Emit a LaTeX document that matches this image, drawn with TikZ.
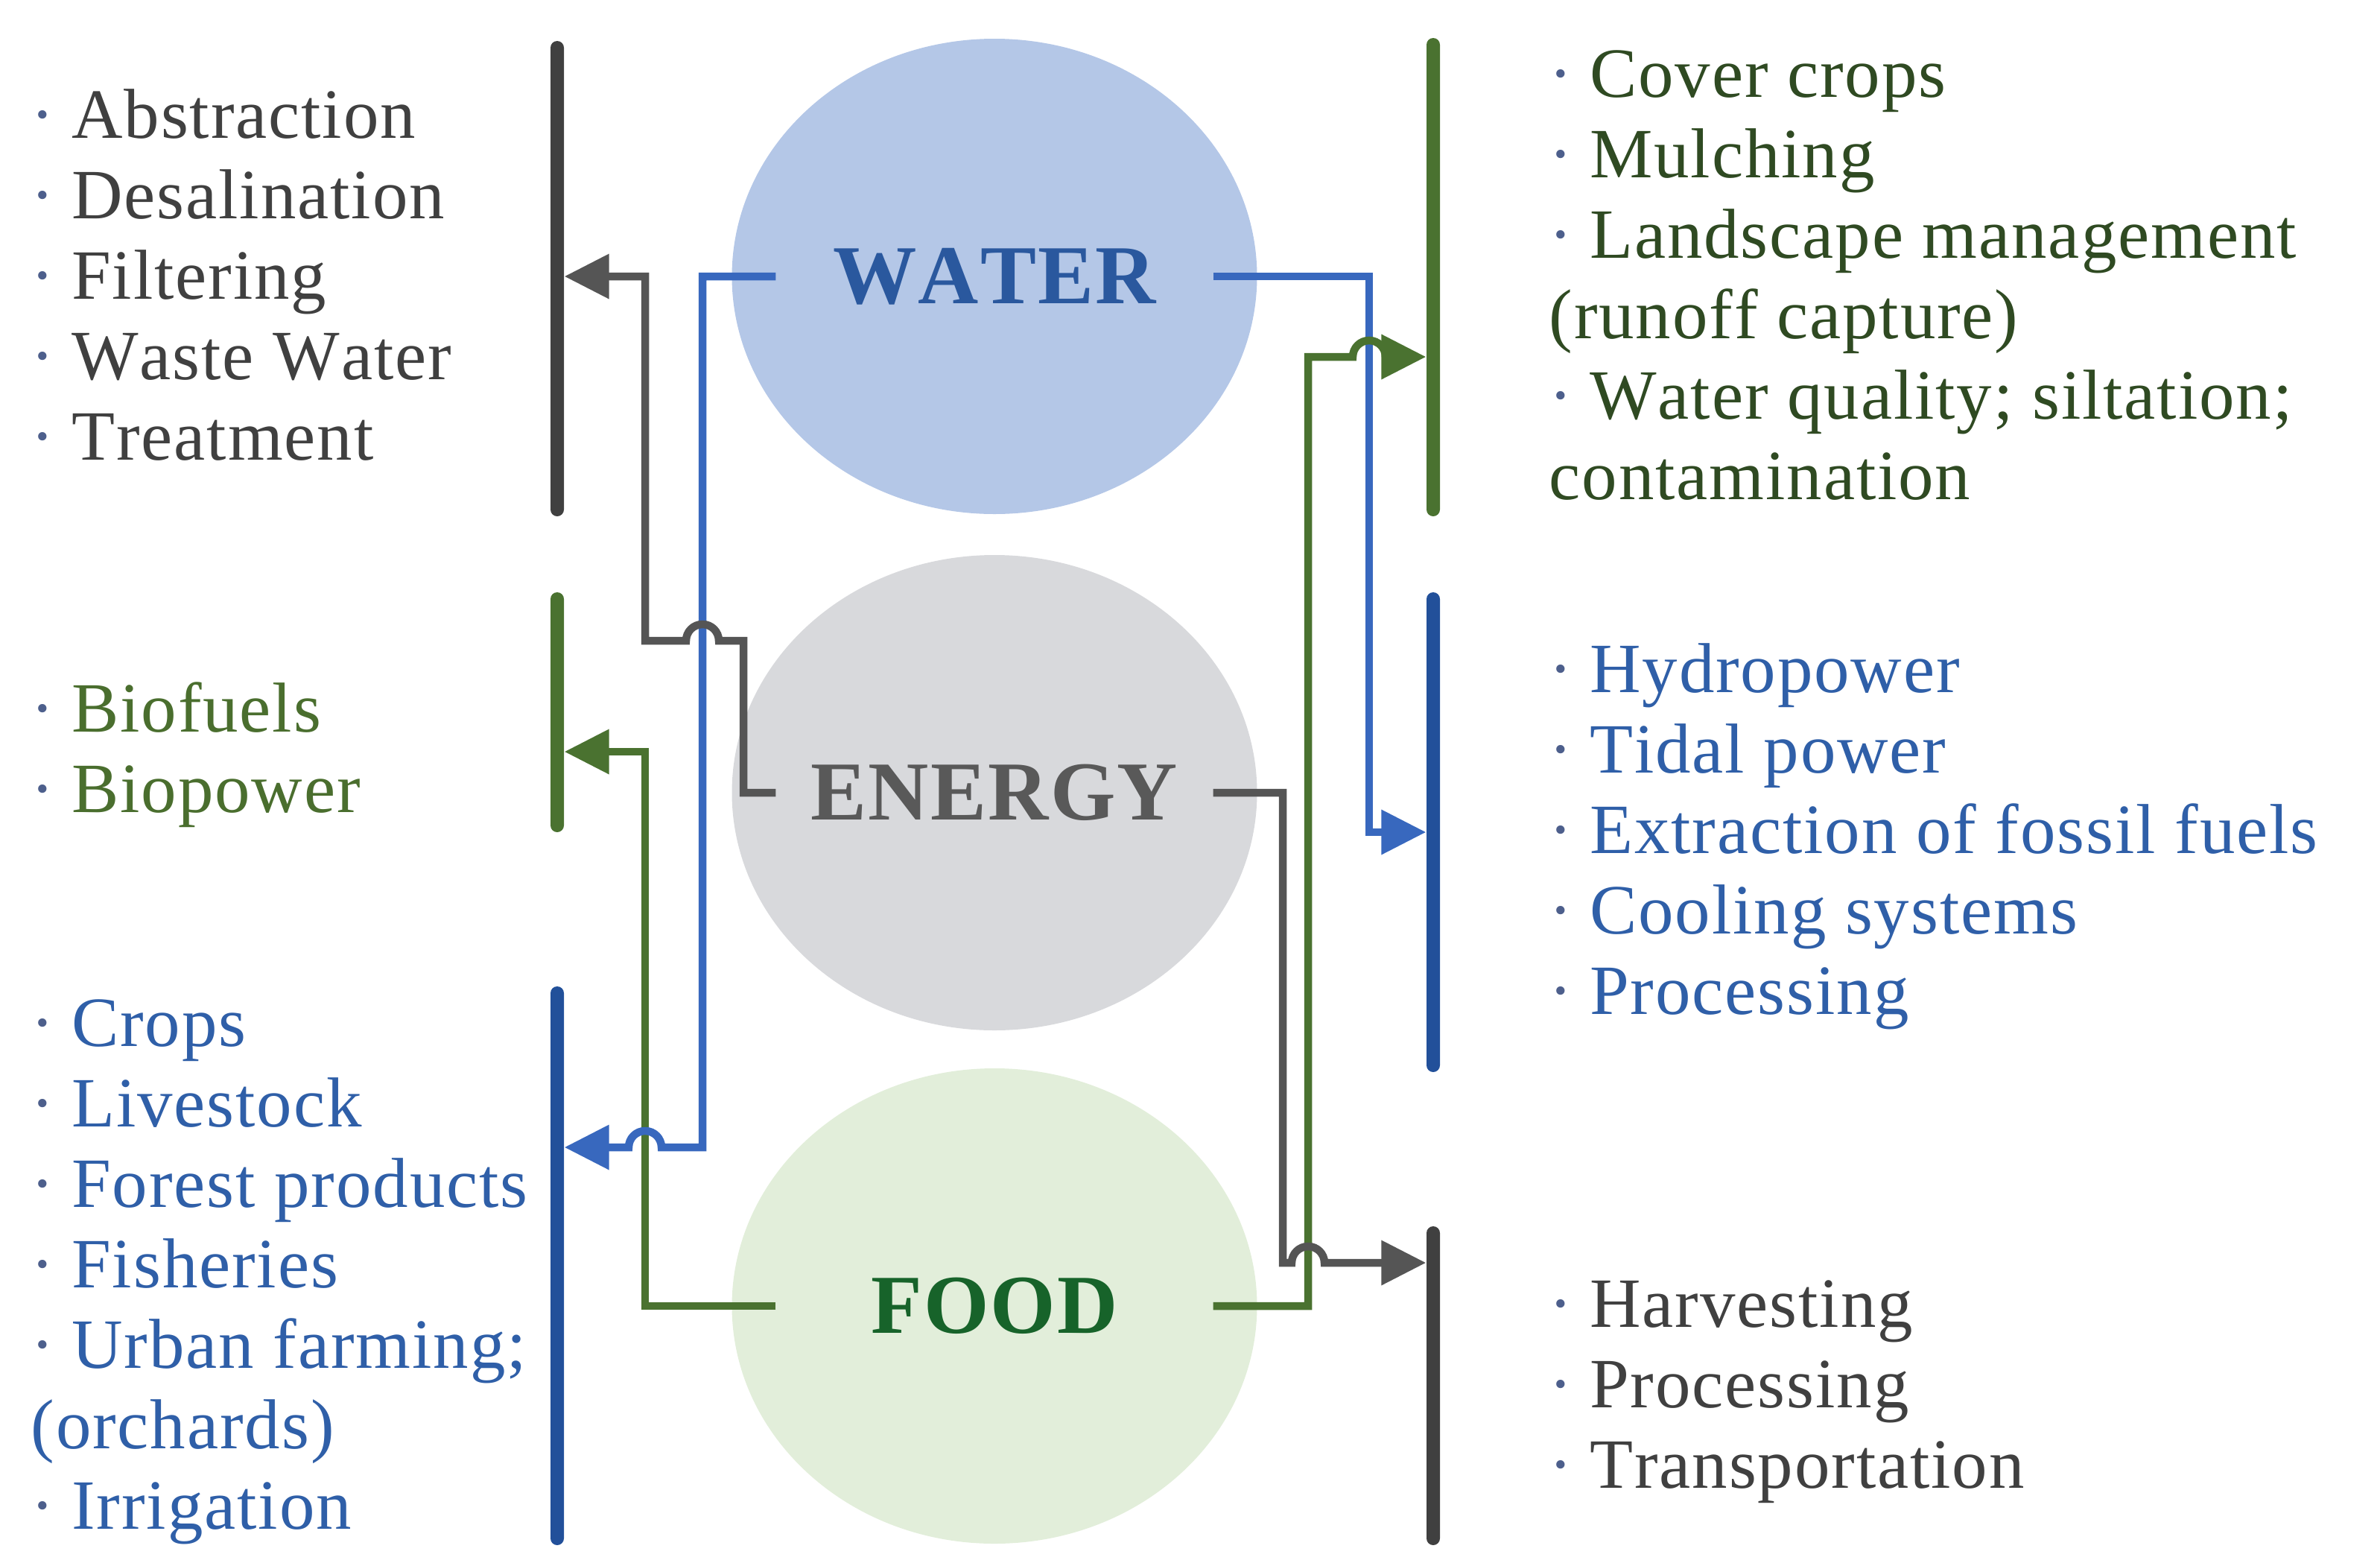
\documentclass[tikz,border=0pt]{standalone}
\usepackage{fontspec}
\setmainfont{Liberation Serif}
\newfontfamily\listfont{Liberation Serif}[LetterSpace=2,Kerning=Off]
\usetikzlibrary{shapes.geometric,arrows.meta}

\definecolor{waterfill}{HTML}{B4C7E7}
\definecolor{energyfill}{HTML}{D8D9DC}
\definecolor{foodfill}{HTML}{E2EEDA}
\definecolor{waterblue}{HTML}{2A589E}
\definecolor{energygray}{HTML}{595959}
\definecolor{foodgreen}{HTML}{17632A}
\definecolor{lineblue}{HTML}{3868BE}
\definecolor{linegray}{HTML}{555555}
\definecolor{linegreen}{HTML}{4A7230}
\definecolor{bargray}{HTML}{404040}
\definecolor{barblue}{HTML}{22509A}
\definecolor{bargreen}{HTML}{4A7230}
\definecolor{txtgray}{HTML}{404040}
\definecolor{txtgreen}{HTML}{4A6E2E}
\definecolor{txtblue}{HTML}{2F5FA8}
\definecolor{txtdkgreen}{HTML}{2F4A22}
\definecolor{dotblue}{HTML}{4D5F8C}

\newcommand{\bul}{{\color{dotblue}\textperiodcentered}\hspace{0.23cm}}

\begin{document}
\begin{tikzpicture}[
  circ/.style={ellipse, minimum width=7.05cm, minimum height=6.38cm, inner sep=0pt},
  headtxt/.style={minimum width=5.86cm, inner sep=0pt, font=\listfont\bfseries\fontsize{32}{34}\selectfont},
  pillar/.style={rectangle, rounded corners=0.09cm, minimum width=0.18cm, inner sep=0pt},
  conn/.style={line width=0.105cm, -{Triangle[length=0.6cm,width=0.58cm]}},
  lst/.style={anchor=north west, align=left, inner sep=0pt, font=\listfont\fontsize{27}{30.73}\selectfont}
]
\useasboundingbox (0,0) rectangle (31.95,-21.01);

% the three circles
\node[circ, fill=waterfill] (water) at (13.35,-3.71) {};
\node[circ, fill=energyfill] (energy) at (13.35,-10.64) {};
\node[circ, fill=foodfill] (food) at (13.35,-17.53) {};
\node[headtxt, text=waterblue] (watert) at (water) {WATER};
\node[headtxt, text=energygray] (energyt) at (energy) {ENERGY};
\node[headtxt, text=foodgreen] (foodt) at (food) {FOOD};

% bars
\node[pillar, fill=bargray, minimum height=6.38cm] (barWL) at (7.48,-3.74) {};
\node[pillar, fill=bargreen, minimum height=3.22cm] (barEL) at (7.48,-9.56) {};
\node[pillar, fill=barblue, minimum height=7.50cm] (barFL) at (7.48,-16.99) {};
\node[pillar, fill=bargreen, minimum height=6.42cm] (barWR) at (19.24,-3.72) {};
\node[pillar, fill=barblue, minimum height=6.44cm] (barER) at (19.24,-11.17) {};
\node[pillar, fill=bargray, minimum height=4.28cm] (barFR) at (19.24,-18.60) {};

% connectors, left side
\draw[conn, linegreen] (foodt.west) -| (8.66,-10.09) -- (barEL.east |- 0,-10.09);
\draw[conn, lineblue] (watert.west) -| (9.43,-15.40) -- (8.88,-15.40) arc[start angle=0, end angle=180, radius=0.22] -- (barFL.east |- 0,-15.40);
\draw[conn, linegray] (energyt.west) -| (9.98,-8.60) -- (9.65,-8.60) arc[start angle=0, end angle=180, radius=0.22] -| (8.66,-3.71) -- (barWL.east |- water.center);

% connectors, right side
\draw[conn, lineblue] (watert.east) -| (18.38,-11.17) -- (barER.west);
\draw[conn, linegreen] (foodt.east) -| (17.56,-4.79) -- (18.16,-4.79) arc[start angle=180, end angle=0, radius=0.22] -- (barWR.west |- 0,-4.79);
\draw[conn, linegray] (energyt.east) -| (17.22,-16.95) -- (17.34,-16.95) arc[start angle=180, end angle=0, radius=0.22] -- (barFR.west |- 0,-16.95);

% lists
\node[lst, text=txtgray] (waterL) at (0.41,-1.09) {\strut\bul Abstraction\\ \bul Desalination\\ \bul Filtering\\ \bul Waste Water\\ \bul Treatment};
\node[lst, text=txtgreen] (energyL) at (0.41,-9.06) {\strut\bul Biofuels\\ \bul Biopower};
\node[lst, text=txtblue] (foodL) at (0.41,-13.28) {\strut\bul Crops\\ \bul Livestock\\ \bul Forest products\\ \bul Fisheries\\ \bul Urban farming;\\ (orchards)\\ \bul Irrigation};
\node[lst, text=txtdkgreen] (waterR) at (20.79,-0.54) {\strut\bul Cover crops\\ \bul Mulching\\ \bul Landscape management\\ (runoff capture)\\ \bul Water quality; siltation;\\ contamination};
\node[lst, text=txtblue] (energyR) at (20.79,-8.53) {\strut\bul Hydropower\\ \bul Tidal power\\ \bul Extraction of fossil fuels\\ \bul Cooling systems\\ \bul Processing};
\node[lst, text=txtgray] (foodR) at (20.79,-17.05) {\strut\bul Harvesting\\ \bul Processing\\ \bul Transportation};
\end{tikzpicture}
\end{document}
